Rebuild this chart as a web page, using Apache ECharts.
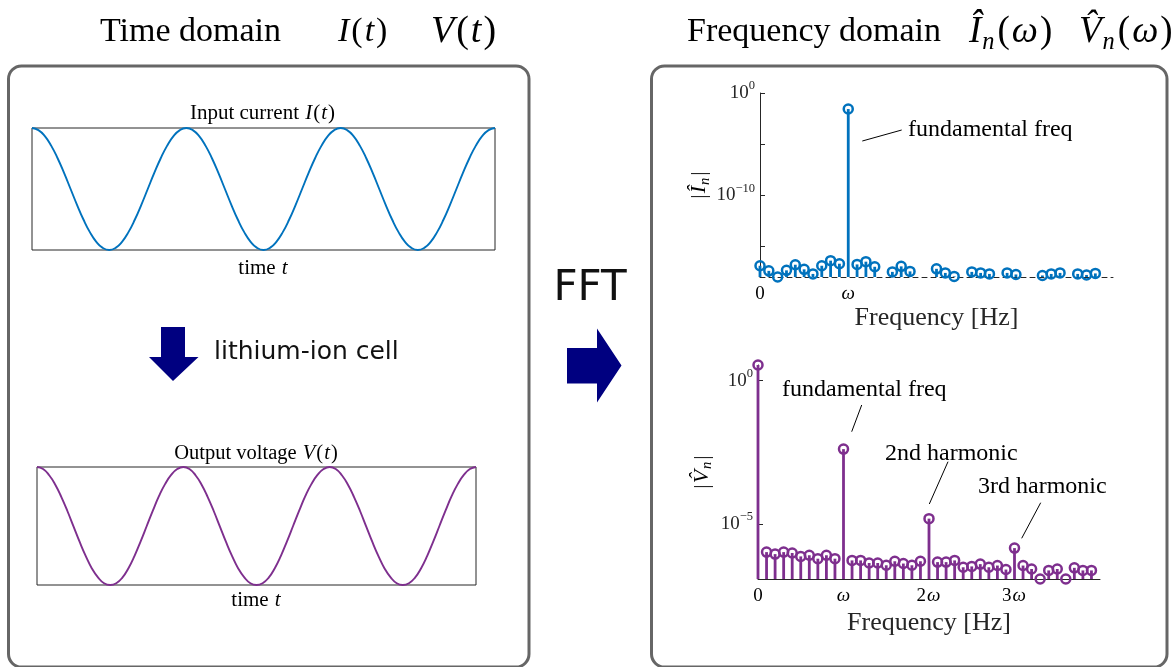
<!DOCTYPE html>
<html>
<head>
<meta charset="utf-8">
<script src="https://cdn.jsdelivr.net/npm/echarts@6/dist/echarts.min.js"></script>
<style>
  html, body { margin: 0; padding: 0; background: #ffffff; }
  #chart { width: 1174px; height: 667px; }
</style>
</head>
<body>
<div id="chart"></div>
<script>
// Time-domain signals: three periods, 24 samples per period
const currentSamples = [
  1, 0.966, 0.866, 0.707, 0.5, 0.259, 0, -0.259, -0.5, -0.707, -0.866, -0.966,
  -1, -0.966, -0.866, -0.707, -0.5, -0.259, 0, 0.259, 0.5, 0.707, 0.866, 0.966,
  1, 0.966, 0.866, 0.707, 0.5, 0.259, 0, -0.259, -0.5, -0.707, -0.866, -0.966,
  -1, -0.966, -0.866, -0.707, -0.5, -0.259, 0, 0.259, 0.5, 0.707, 0.866, 0.966,
  1, 0.966, 0.866, 0.707, 0.5, 0.259, 0, -0.259, -0.5, -0.707, -0.866, -0.966,
  -1, -0.966, -0.866, -0.707, -0.5, -0.259, 0, 0.259, 0.5, 0.707, 0.866, 0.966,
  1
];
const voltageSamples = [
  1, 0.965, 0.86, 0.70, 0.49, 0.25, -0.01, -0.27, -0.51, -0.72, -0.87, -0.97,
  -1, -0.97, -0.875, -0.715, -0.505, -0.26, 0, 0.26, 0.505, 0.71, 0.865, 0.965,
  1, 0.965, 0.86, 0.70, 0.49, 0.25, -0.01, -0.27, -0.51, -0.72, -0.87, -0.97,
  -1, -0.97, -0.875, -0.715, -0.505, -0.26, 0, 0.26, 0.505, 0.71, 0.865, 0.965,
  1, 0.965, 0.86, 0.70, 0.49, 0.25, -0.01, -0.27, -0.51, -0.72, -0.87, -0.97,
  -1, -0.97, -0.875, -0.715, -0.505, -0.26, 0, 0.26, 0.505, 0.71, 0.865, 0.965,
  1
];

// FFT magnitudes, stored as log10 |X_n| per frequency bin n (null = below the axis floor)
const logMagI = [
  -16.9, -17.4, -18.0, -17.35, -16.8, -17.25, -17.7, -16.9, -16.4, -16.7,
  -1.57, -16.77, -16.5, -17.0, null, -17.5, -16.96, -17.45, null, null,
  -17.2, -17.6, -17.94, null, -17.5, -17.6, -17.7, null, -17.6, -17.75,
  null, null, -17.85, -17.7, -17.6, null, -17.7, -17.8, -17.65
];
const logMagV = [
  0.55, -5.99, -6.06, -5.99, -6.02, -6.14, -6.1, -6.22, -6.1, -6.22,
  -2.39, -6.28, -6.28, -6.37, -6.37, -6.45, -6.31, -6.39, -6.45, -6.31,
  -4.82, -6.34, -6.34, -6.28, -6.52, -6.49, -6.41, -6.52, -6.46, -6.6,
  -5.85, -6.46, -6.58, -6.93, -6.63, -6.58, -6.93, -6.54, -6.63, -6.63
];

// Axis ticks
const freqTicksI = [0, 10];
const freqTicksV = [0, 10, 20, 30];
const freqTickText = { 0: '{rm|0}', 10: '{it|ω}', 20: '{rm|2}{it|ω}', 30: '{rm|3}{it|ω}' };
const magTicksI = [0, -5, -10, -15];
const magLabelsI = [0, -10];
const magTicksV = [0, -5];
const magLabelsV = [0, -5];

const floorI = -18, ceilI = 0;
const floorV = -6.93, ceilV = 0.55;

const BLUE = '#0072BD';
const PURPLE = '#7E2F8E';
const NAVY = '#000080';
const serif = "'Liberation Serif', 'DejaVu Serif', serif";
const sans = "'DejaVu Sans', sans-serif";

function mathRich(size, mathSize) {
  const m = mathSize || size;
  return {
    rm: { fontFamily: serif, fontSize: size, lineHeight: m * 1.2, color: '#000' },
    mrm: { fontFamily: serif, fontSize: m, lineHeight: m * 1.2, color: '#000', padding: [0, 1, 0, 1] },
    it: { fontFamily: serif, fontSize: m, fontStyle: 'italic', lineHeight: m * 1.2, color: '#000', padding: [0, 1, 0, 1] },
    sub: { fontFamily: serif, fontSize: m * 0.66, fontStyle: 'italic', verticalAlign: 'bottom', lineHeight: m * 0.72, color: '#000', padding: [0, 2, 0, 0] }
  };
}
function expRich(size) {
  return {
    b: { fontFamily: serif, fontSize: size, lineHeight: size * 1.4, color: '#262626' },
    s: { fontFamily: serif, fontSize: size * 0.66, verticalAlign: 'top', lineHeight: size * 0.66, color: '#262626' }
  };
}
function expLabel(v) {
  return '{b|10}{s|' + (v === 0 ? '0' : '−' + (-v)) + '}';
}

function text(x, y, str, size, align, mathSize) {
  return {
    type: 'text', x: x, y: y, silent: true, z: 10,
    style: {
      text: str, fontFamily: serif, fontSize: size, fill: '#000',
      align: align || 'left', verticalAlign: 'middle', rich: mathRich(size, mathSize)
    }
  };
}
function seg(x1, y1, x2, y2) {
  return { type: 'line', silent: true, z: 10, shape: { x1, y1, x2, y2 }, style: { stroke: '#000', lineWidth: 1 } };
}

function stemSeries(idx, logs, color, floor) {
  const pts = [];
  logs.forEach((v, i) => { if (v !== null) pts.push([i, v]); });
  return {
    type: 'custom', xAxisIndex: idx, yAxisIndex: idx, clip: false, z: 5,
    data: pts,
    encode: { x: 0, y: 1 },
    renderItem: function (params, api) {
      const top = api.coord([api.value(0), api.value(1)]);
      const base = api.coord([api.value(0), floor]);
      return {
        type: 'group',
        children: [
          { type: 'line', shape: { x1: top[0], y1: base[1], x2: top[0], y2: top[1] },
            style: { stroke: color, lineWidth: 2.8 } },
          { type: 'circle', shape: { cx: top[0], cy: top[1], r: 4.5 },
            style: { fill: 'none', stroke: color, lineWidth: 2.5 } }
        ]
      };
    }
  };
}

function timeAxes(idx, n, gap) {
  return {
    x: {
      gridIndex: idx, type: 'value', min: 0, max: n - 1,
      axisLine: { show: false }, axisTick: { show: false }, axisLabel: { show: false }, splitLine: { show: false },
      name: '{rm|time }{it|t}', nameLocation: 'middle', nameGap: gap,
      nameTextStyle: { fontFamily: serif, fontSize: 21, rich: mathRich(21) }
    },
    y: {
      gridIndex: idx, type: 'value', min: -1, max: 1,
      axisLine: { show: false }, axisTick: { show: false }, axisLabel: { show: false }, splitLine: { show: false }
    }
  };
}

function freqXAxis(idx, ticks, gap, dashed) {
  return {
    gridIndex: idx, type: 'value', min: 0, max: 40,
    axisLine: { show: true, onZero: false, lineStyle: { color: '#262626', width: 1, type: dashed ? [5, 4] : 'solid' } },
    axisTick: { show: false },
    splitLine: { show: false },
    axisLabel: {
      customValues: ticks, margin: 6,
      formatter: v => freqTickText[v] || '',
      rich: mathRich(19)
    },
    name: 'Frequency [Hz]', nameLocation: 'middle', nameGap: gap,
    nameTextStyle: { fontFamily: serif, fontSize: 26, color: '#262626' }
  };
}
function freqYAxis(idx, min, max, ticks, labels, name, gap) {
  return {
    gridIndex: idx, type: 'value', min: min, max: max,
    axisLine: { show: true, onZero: false, lineStyle: { color: '#262626', width: 1 } },
    axisTick: { show: true, inside: true, length: 5, customValues: ticks, lineStyle: { color: '#262626' } },
    splitLine: { show: false },
    axisLabel: { customValues: labels, margin: 5, formatter: expLabel, rich: expRich(19) },
    name: name, nameLocation: 'middle', nameGap: gap, nameRotate: 90,
    nameTextStyle: { fontFamily: serif, fontSize: 22, color: '#262626', rich: mathRich(22) }
  };
}

const tA = timeAxes(0, currentSamples.length, 6);
const tB = timeAxes(1, voltageSamples.length, 3);

const chart = echarts.init(document.getElementById('chart'), null, { renderer: 'canvas' });
chart.setOption({
  animation: false,
  backgroundColor: '#ffffff',
  grid: [
    { left: 32, top: 128, width: 463, height: 122, show: true, borderColor: '#262626', borderWidth: 1 },
    { left: 37, top: 467, width: 439, height: 118, show: true, borderColor: '#262626', borderWidth: 1 },
    { left: 760, top: 93, width: 353, height: 184 },
    { left: 758, top: 365, width: 342, height: 214 }
  ],
  xAxis: [
    tA.x, tB.x,
    freqXAxis(2, freqTicksI, 28, true),
    freqXAxis(3, freqTicksV, 31, false)
  ],
  yAxis: [
    tA.y, tB.y,
    freqYAxis(2, floorI, ceilI, magTicksI, magLabelsI, '|{it|Î}{sub|n}|', 46),
    freqYAxis(3, floorV, ceilV, magTicksV, magLabelsV, '|{it|V̂}{sub|n}|', 43)
  ],
  series: [
    { type: 'line', xAxisIndex: 0, yAxisIndex: 0, data: currentSamples.map((v, i) => [i, v]),
      smooth: true, showSymbol: false, clip: false, lineStyle: { color: BLUE, width: 1.9 } },
    { type: 'line', xAxisIndex: 1, yAxisIndex: 1, data: voltageSamples.map((v, i) => [i, v]),
      smooth: true, showSymbol: false, clip: false, lineStyle: { color: PURPLE, width: 1.9 } },
    stemSeries(2, logMagI, BLUE, floorI),
    stemSeries(3, logMagV, PURPLE, floorV)
  ],
  graphic: [
    // panel frames
    { type: 'rect', silent: true, z: 1, shape: { x: 8.5, y: 66, width: 520.5, height: 601, r: 13 },
      style: { fill: 'none', stroke: '#666666', lineWidth: 3 } },
    { type: 'rect', silent: true, z: 1, shape: { x: 651.5, y: 66, width: 515.5, height: 601, r: 13 },
      style: { fill: 'none', stroke: '#666666', lineWidth: 3 } },

    // headings
    text(100, 32, 'Time domain', 34),
    text(337, 32, '{it|I}{mrm|(}{it|t}{mrm|)}', 34, 'left', 34),
    text(430, 32, '{it|V}{mrm|(}{it|t}{mrm|)}', 34, 'left', 38),
    text(687, 32, 'Frequency domain', 34),
    text(968, 32, '{it|Î}{sub|n}{mrm|(}{it|ω}{mrm|)}', 34, 'left', 37),
    text(1078, 32, '{it|V̂}{sub|n}{mrm|(}{it|ω}{mrm|)}', 34, 'left', 37),

    // subplot titles
    text(262.5, 113, '{rm|Input current }{it|I}{rm|(}{it|t}{rm|)}', 21, 'center'),
    text(256, 454, '{rm|Output voltage }{it|V}{rm|(}{it|t}{rm|)}', 20.5, 'center'),

    // cell arrow (down)
    { type: 'polygon', silent: true, z: 5,
      shape: { points: [[161, 327], [185, 327], [185, 357], [198.5, 357], [173, 381], [149, 357], [161, 357]] },
      style: { fill: NAVY } },
    { type: 'text', x: 214, y: 352, silent: true, z: 10,
      style: { text: 'lithium-ion cell', fontFamily: sans, fontSize: 25, fill: '#111', align: 'left', verticalAlign: 'middle' } },

    // FFT arrow (right)
    { type: 'text', x: 590, y: 289, silent: true, z: 10,
      style: { text: 'FFT', fontFamily: sans, fontSize: 42, fill: '#111', align: 'center', verticalAlign: 'middle' } },
    { type: 'polygon', silent: true, z: 5,
      shape: { points: [[567, 348], [597, 348], [597, 328.5], [621.5, 365.5], [597, 402.5], [597, 383.5], [567, 383.5]] },
      style: { fill: NAVY } },

    // annotations
    text(908, 130, 'fundamental freq', 24),
    seg(901.7, 130, 862.3, 141),
    text(782, 390, 'fundamental freq', 24),
    seg(861.7, 405, 851.7, 431.7),
    text(885, 454, '2nd harmonic', 24),
    seg(948, 461.7, 929.3, 504),
    text(978, 487, '3rd harmonic', 24),
    seg(1040.7, 502.7, 1021.7, 538.3)
  ]
});
</script>
</body>
</html>
